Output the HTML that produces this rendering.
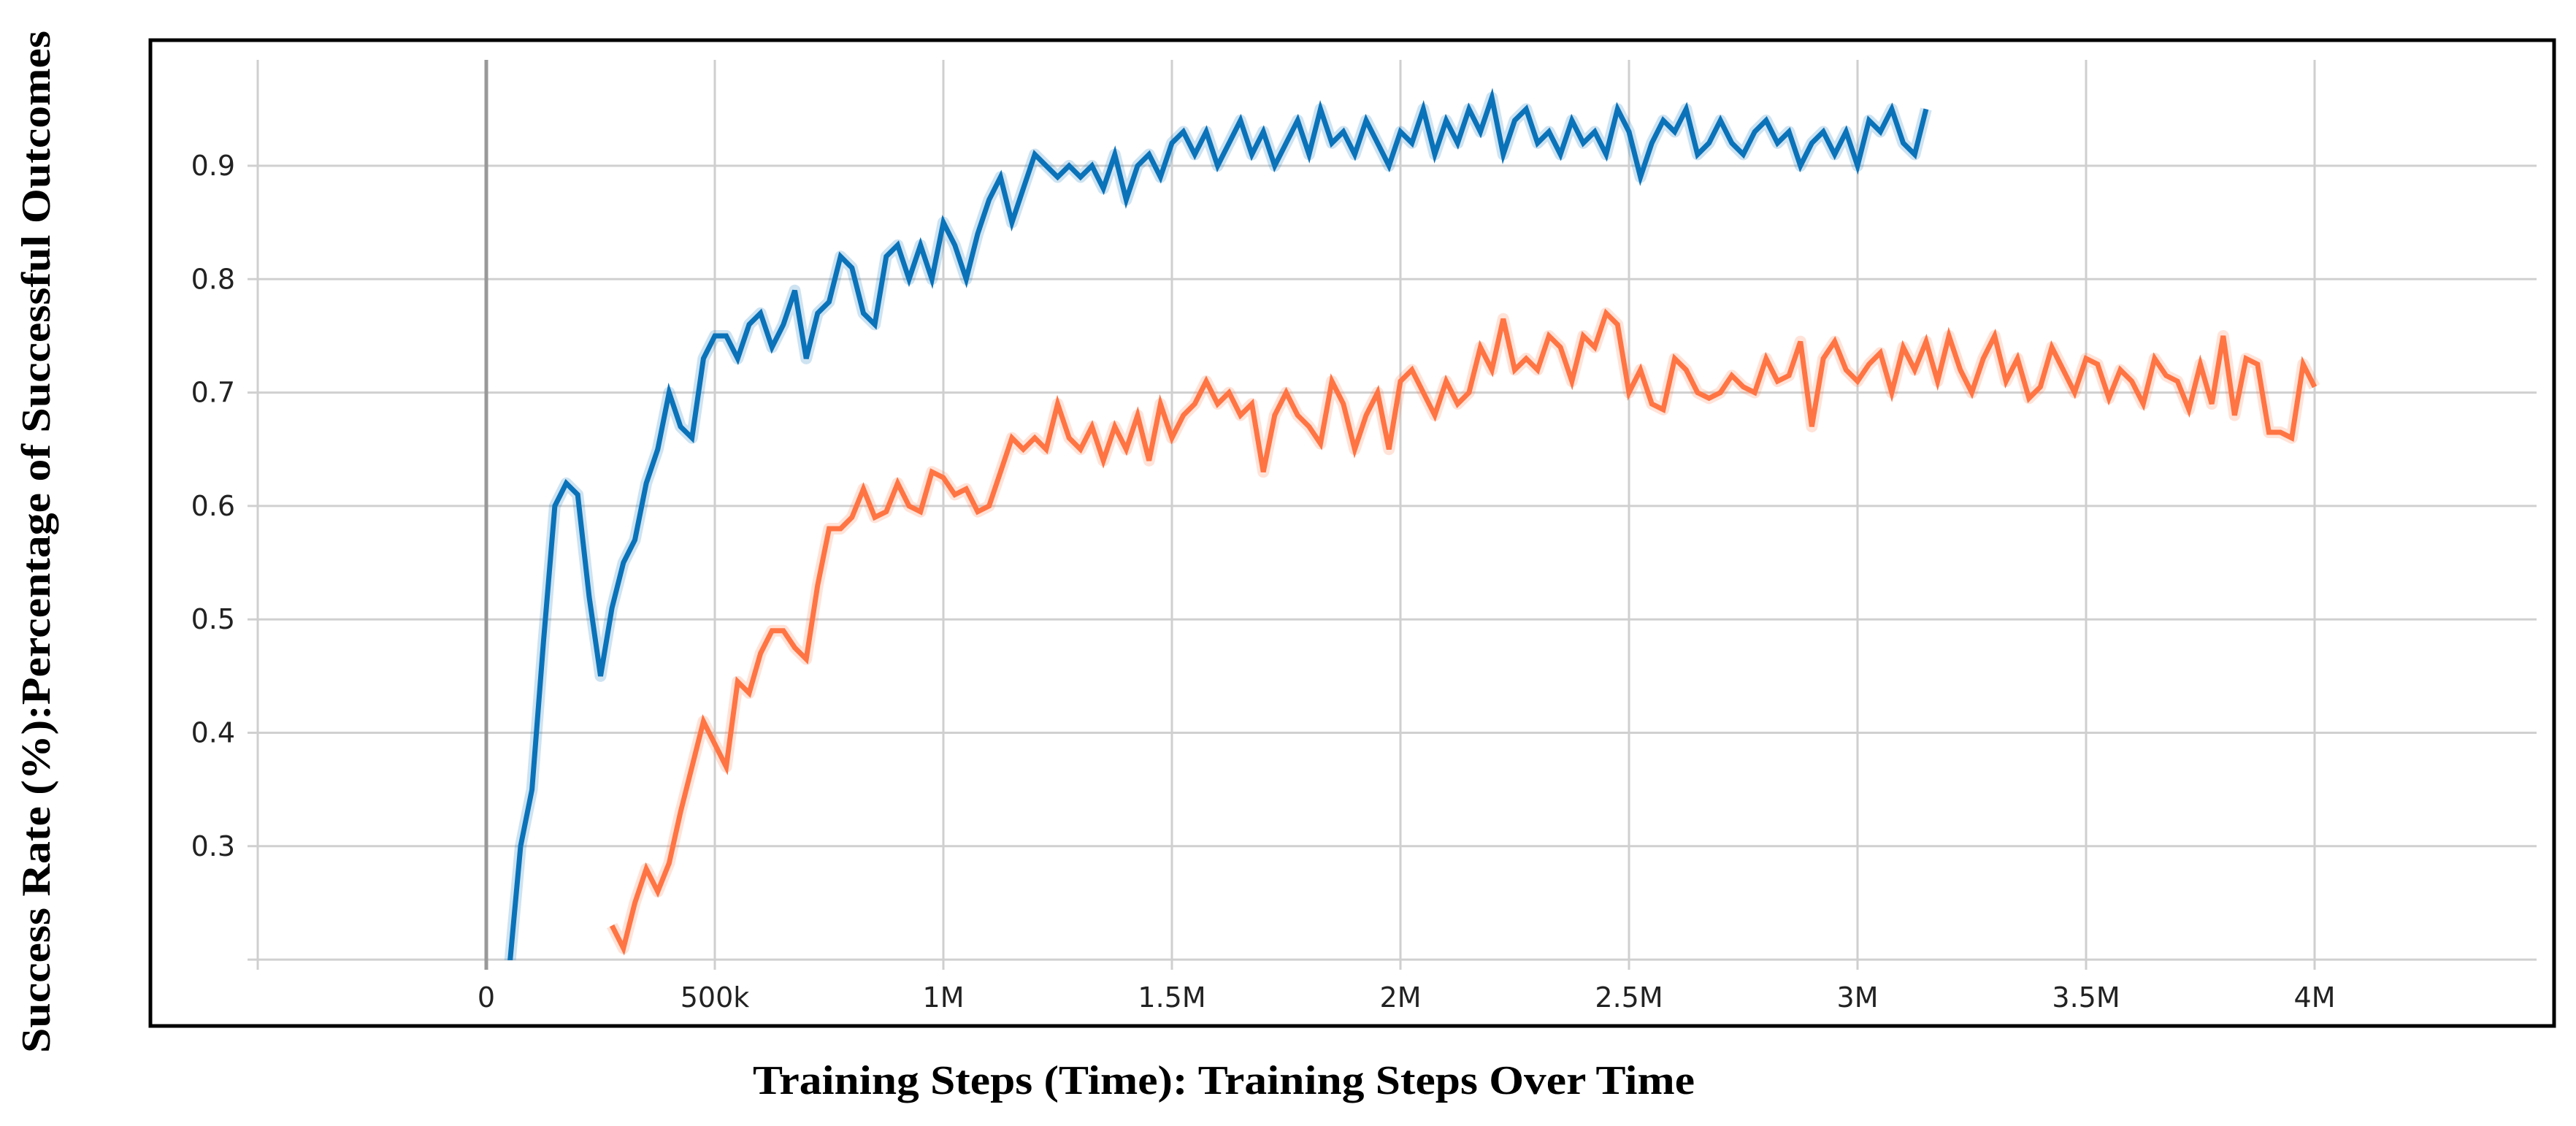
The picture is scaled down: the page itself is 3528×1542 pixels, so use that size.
<!DOCTYPE html>
<html><head><meta charset="utf-8"><style>
html,body{margin:0;padding:0;background:#fff;}
svg{display:block;}
</style></head><body>
<svg id="chart" width="3528" height="1542" viewBox="0 0 3528 1542" xmlns="http://www.w3.org/2000/svg">
<rect x="206" y="55" width="3292" height="1350" fill="#fff" stroke="#000" stroke-width="5"/>
<g id="grid"></g>
<g id="series" clip-path="url(#clip)"></g>
<defs><clipPath id="clip"><rect x="339" y="80" width="3140" height="1235"/></clipPath></defs>
<g id="labels"></g>
<text transform="translate(68,742) rotate(-90)" text-anchor="middle" font-family="Liberation Serif, serif" font-weight="bold" font-size="56" textLength="1400" lengthAdjust="spacingAndGlyphs" fill="#000">Success Rate (%):Percentage of Successful Outcomes</text>
<text x="1676" y="1498" text-anchor="middle" font-family="Liberation Serif, serif" font-weight="bold" font-size="56" textLength="1290" lengthAdjust="spacingAndGlyphs" fill="#000">Training Steps (Time): Training Steps Over Time</text>
</svg>
<script>
const xTicks = [-500000, 0, 500000, 1000000, 1500000, 2000000, 2500000, 3000000, 3500000, 4000000];
const xTickLabels = ["", "0", "500k", "1M", "1.5M", "2M", "2.5M", "3M", "3.5M", "4M"];
const yTicks = [0.2, 0.3, 0.4, 0.5, 0.6, 0.7, 0.8, 0.9];
const yTickLabels = ["", "0.3", "0.4", "0.5", "0.6", "0.7", "0.8", "0.9"];

const blueSteps = [50,75,100,125,150,175,200,225,250,275,300,325,350,375,400,425,450,475,500,525,550,575,600,625,650,675,700,725,750,775,800,825,850,875,900,925,950,975,1000,1025,1050,1075,1100,1125,1150,1175,1200,1225,1250,1275,1300,1325,1350,1375,1400,1425,1450,1475,1500,1525,1550,1575,1600,1625,1650,1675,1700,1725,1750,1775,1800,1825,1850,1875,1900,1925,1950,1975,2000,2025,2050,2075,2100,2125,2150,2175,2200,2225,2250,2275,2300,2325,2350,2375,2400,2425,2450,2475,2500,2525,2550,2575,2600,2625,2650,2675,2700,2725,2750,2775,2800,2825,2850,2875,2900,2925,2950,2975,3000,3025,3050,3075,3100,3125,3150];
const blueValues = [0.19,0.30,0.35,0.48,0.60,0.62,0.61,0.52,0.45,0.51,0.55,0.57,0.62,0.65,0.70,0.67,0.66,0.73,0.75,0.75,0.73,0.76,0.77,0.74,0.76,0.79,0.73,0.77,0.78,0.82,0.81,0.77,0.76,0.82,0.83,0.80,0.83,0.80,0.85,0.83,0.80,0.84,0.87,0.89,0.85,0.88,0.91,0.90,0.89,0.90,0.89,0.90,0.88,0.91,0.87,0.90,0.91,0.89,0.92,0.93,0.91,0.93,0.90,0.92,0.94,0.91,0.93,0.90,0.92,0.94,0.91,0.95,0.92,0.93,0.91,0.94,0.92,0.90,0.93,0.92,0.95,0.91,0.94,0.92,0.95,0.93,0.96,0.91,0.94,0.95,0.92,0.93,0.91,0.94,0.92,0.93,0.91,0.95,0.93,0.89,0.92,0.94,0.93,0.95,0.91,0.92,0.94,0.92,0.91,0.93,0.94,0.92,0.93,0.90,0.92,0.93,0.91,0.93,0.90,0.94,0.93,0.95,0.92,0.91,0.95];

const orangeSteps = [275,300,325,350,375,400,425,450,475,500,525,550,575,600,625,650,675,700,725,750,775,800,825,850,875,900,925,950,975,1000,1025,1050,1075,1100,1125,1150,1175,1200,1225,1250,1275,1300,1325,1350,1375,1400,1425,1450,1475,1500,1525,1550,1575,1600,1625,1650,1675,1700,1725,1750,1775,1800,1825,1850,1875,1900,1925,1950,1975,2000,2025,2050,2075,2100,2125,2150,2175,2200,2225,2250,2275,2300,2325,2350,2375,2400,2425,2450,2475,2500,2525,2550,2575,2600,2625,2650,2675,2700,2725,2750,2775,2800,2825,2850,2875,2900,2925,2950,2975,3000,3025,3050,3075,3100,3125,3150,3175,3200,3225,3250,3275,3300,3325,3350,3375,3400,3425,3450,3475,3500,3525,3550,3575,3600,3625,3650,3675,3700,3725,3750,3775,3800,3825,3850,3875,3900,3925,3950,3975,4000];
const orangeValues = [0.23,0.21,0.25,0.28,0.26,0.285,0.33,0.37,0.41,0.39,0.37,0.445,0.435,0.47,0.49,0.49,0.475,0.465,0.53,0.58,0.58,0.59,0.615,0.59,0.595,0.62,0.60,0.595,0.63,0.625,0.61,0.615,0.595,0.60,0.63,0.66,0.65,0.66,0.65,0.69,0.66,0.65,0.67,0.64,0.67,0.65,0.68,0.64,0.69,0.66,0.68,0.69,0.71,0.69,0.70,0.68,0.69,0.63,0.68,0.70,0.68,0.67,0.655,0.71,0.69,0.65,0.68,0.70,0.65,0.71,0.72,0.70,0.68,0.71,0.69,0.70,0.74,0.72,0.765,0.72,0.73,0.72,0.75,0.74,0.71,0.75,0.74,0.77,0.76,0.70,0.72,0.69,0.685,0.73,0.72,0.70,0.695,0.70,0.715,0.705,0.70,0.73,0.71,0.715,0.745,0.67,0.73,0.745,0.72,0.71,0.725,0.735,0.70,0.74,0.72,0.745,0.71,0.75,0.72,0.70,0.73,0.75,0.71,0.73,0.695,0.705,0.74,0.72,0.70,0.73,0.725,0.695,0.72,0.71,0.69,0.73,0.715,0.71,0.685,0.725,0.69,0.75,0.68,0.73,0.725,0.665,0.665,0.66,0.725,0.705];

const NS = "http://www.w3.org/2000/svg";
function xScale(v){ return 666 + v * 626 / 1000000; }
function yScale(v){ return 227 + (0.9 - v) * 1553; }

const grid = document.getElementById('grid');
const labels = document.getElementById('labels');
yTicks.forEach((t, i) => {
  const l = document.createElementNS(NS, 'line');
  
  
  l.setAttribute('x1', 339); l.setAttribute('x2', 3474);
  l.setAttribute('y1', yScale(t)); l.setAttribute('y2', yScale(t));
  l.setAttribute('stroke', '#d0d0d0'); l.setAttribute('stroke-width', 3);
  grid.appendChild(l);
  if (yTickLabels[i]) {
    const tx = document.createElementNS(NS, 'text');
    
    
    tx.setAttribute('x', 322); tx.setAttribute('y', yScale(t) + 13);
    tx.setAttribute('text-anchor', 'end');
    tx.setAttribute('font-family', 'DejaVu Sans, sans-serif');
    tx.setAttribute('font-size', 38); tx.setAttribute('fill', '#222');
    tx.textContent = yTickLabels[i];
    labels.appendChild(tx);
  }
});
xTicks.forEach((t, i) => {
  const l = document.createElementNS(NS, 'line');
  
  
  l.setAttribute('x1', xScale(t)); l.setAttribute('x2', xScale(t));
  l.setAttribute('y1', 82); l.setAttribute('y2', 1328);
  l.setAttribute('stroke', t === 0 ? '#999' : '#cfcfcf');
  l.setAttribute('stroke-width', t === 0 ? 5 : 3);
  grid.appendChild(l);
  if (xTickLabels[i]) {
    const tx = document.createElementNS(NS, 'text');
    
    
    tx.setAttribute('x', xScale(t)); tx.setAttribute('y', 1379);
    tx.setAttribute('text-anchor', 'middle');
    tx.setAttribute('font-family', 'DejaVu Sans, sans-serif');
    tx.setAttribute('font-size', 38); tx.setAttribute('fill', '#222');
    tx.textContent = xTickLabels[i];
    labels.appendChild(tx);
  }
});

const series = document.getElementById('series');
function drawSeries(steps, vals, color, band, name){
  const pts = steps.map((s, i) => xScale(s * 1000).toFixed(1) + ',' + yScale(vals[i]).toFixed(1)).join(' ');
  const b = document.createElementNS(NS, 'polyline');
  
  
  b.setAttribute('points', pts); b.setAttribute('fill', 'none');
  b.setAttribute('stroke', band); b.setAttribute('stroke-width', 16);
  b.setAttribute('stroke-linejoin', 'round');
  series.appendChild(b);
  const p = document.createElementNS(NS, 'polyline');
  
  
  p.setAttribute('points', pts); p.setAttribute('fill', 'none');
  p.setAttribute('stroke', color); p.setAttribute('stroke-width', 7);
  p.setAttribute('stroke-linejoin', 'miter');
  series.appendChild(p);
}
drawSeries(blueSteps, blueValues, '#0a72b8', 'rgba(10,114,184,0.2)', 'blue-series');
drawSeries(orangeSteps, orangeValues, '#ff7443', 'rgba(255,116,67,0.2)', 'orange-series');
</script>
</body></html>
